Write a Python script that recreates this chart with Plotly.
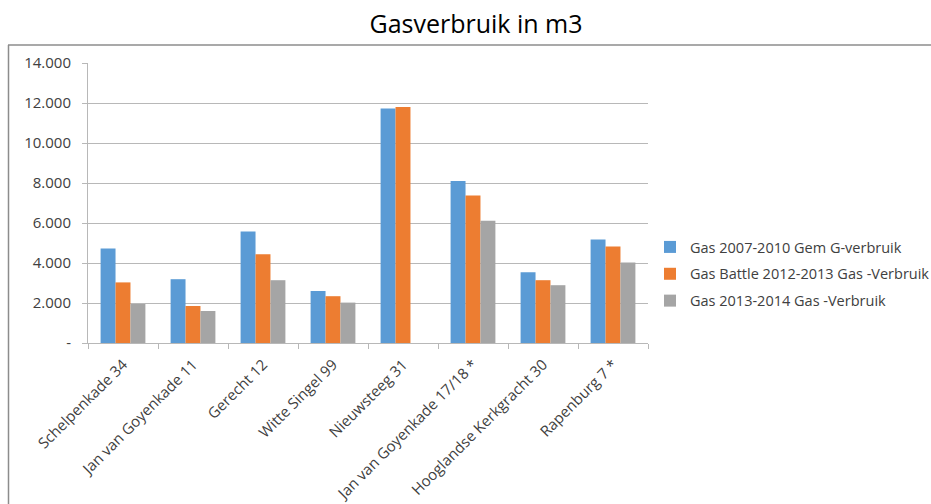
import plotly.graph_objects as go

categories = ["Schelpenkade 34", "Jan van Goyenkade 11", "Gerecht 12", "Witte Singel 99",
              "Nieuwsteeg 31", "Jan van Goyenkade 17/18 *", "Hooglandse Kerkgracht 30", "Rapenburg 7 *"]
gas_2007_2010 = [4730, 3190, 5580, 2600, 11730, 8100, 3540, 5180]
gas_2012_2013 = [3030, 1850, 4440, 2340, 11800, 7370, 3140, 4830]
gas_2013_2014 = [1950, 1600, 3140, 2020, 0, 6110, 2890, 4030]
series_names = ["Gas 2007-2010 Gem G-verbruik", "Gas Battle 2012-2013 Gas -Verbruik",
                "Gas 2013-2014 Gas -Verbruik"]
y_tickvals = [0, 2000, 4000, 6000, 8000, 10000, 12000, 14000]
y_ticktext = ["-", "2.000", "4.000", "6.000", "8.000", "10.000", "12.000", "14.000"]
colors = ["#5B9BD5", "#ED7D31", "#A5A5A5"]

W, H = 931, 504
L, R, T, B = 88, 648, 63, 343

fig = go.Figure()
for i, (name, vals) in enumerate(zip(series_names, [gas_2007_2010, gas_2012_2013, gas_2013_2014])):
    fig.add_trace(go.Bar(x=categories, y=vals, name=name, marker_color=colors[i],
                         marker_line_width=0, legendgroup=f"g{i}"))

def px_x(p):
    return (p - L) / (R - L)

def px_y(p):
    return (B - p) / (B - T)

font = "Open Sans, Noto Sans, sans-serif"
fig.update_layout(
    width=W, height=H,
    margin=dict(l=L, r=W - R, t=T, b=H - B, autoexpand=False),
    paper_bgcolor="white", plot_bgcolor="white",
    barmode="group", bargap=0.36, bargroupgap=0,
    font=dict(family=font, size=12, color="#404040"),
    title=dict(text="Gasverbruik in m3", x=476 / W, xanchor="center", y=1 - 24 / H, yanchor="middle",
               font=dict(family=font, size=25, color="#000000")),
    legend=dict(x=px_x(650), xanchor="left", y=px_y(274), yanchor="middle",
                font=dict(family=font, size=14.5, color="#404040"),
                traceorder="grouped", tracegroupgap=5, bgcolor="rgba(0,0,0,0)"),
    showlegend=True,
)
fig.update_yaxes(range=[0, 14000], tickvals=y_tickvals, ticktext=y_ticktext,
                 showgrid=True, gridcolor="#B8B8B8", gridwidth=1,
                 showline=True, linecolor="#B8B8B8", linewidth=1,
                 ticks="outside", ticklen=5, tickcolor="#B8B8B8", ticklabelstandoff=8,
                 tickfont=dict(size=15, color="#404040"), zeroline=False)
fig.update_xaxes(showline=True, linecolor="#B8B8B8", linewidth=1,
                 ticks="outside", ticklen=5, tickcolor="#B8B8B8", tickson="boundaries",
                 ticklabelstandoff=6,
                 tickangle=-45, tickfont=dict(size=15, color="#404040"), showgrid=False)

# outer chart border (top and left edges)
fig.add_shape(type="line", xref="paper", yref="paper", x0=px_x(8), x1=px_x(931), y0=px_y(45), y1=px_y(45),
              line=dict(color="#8C8C8C", width=1.5))
fig.add_shape(type="line", xref="paper", yref="paper", x0=px_x(8.5), x1=px_x(8.5), y0=px_y(45), y1=px_y(504),
              line=dict(color="#8C8C8C", width=1.5))

fig.write_html("out.html", config={"displayModeBar": False},
               post_script="document.body.style.margin='0';document.body.style.padding='0';")
